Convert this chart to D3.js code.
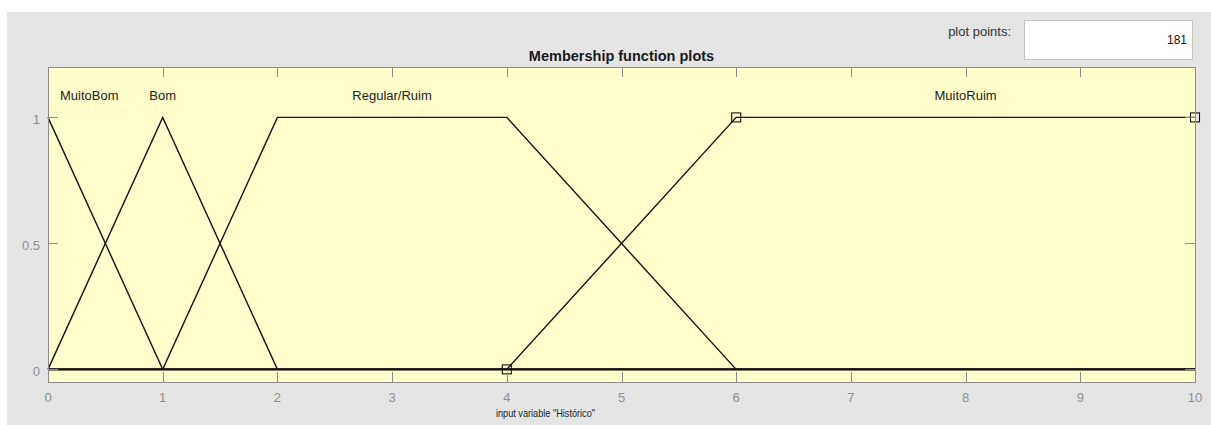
<!DOCTYPE html>
<html>
<head>
<meta charset="utf-8">
<script src="https://cdn.jsdelivr.net/npm/d3@7"></script>
<style>
  html, body { margin: 0; padding: 0; background: #ffffff; }
  svg { display: block; font-family: "Liberation Sans", Arial, sans-serif; }
</style>
</head>
<body>
<svg id="chart" width="1211" height="425"></svg>
<script>
// Membership functions of the input variable "Histórico"
const mfNames = ["MuitoBom", "Bom", "Regular/Ruim", "MuitoRuim"];
const mfTypes = ["trimf", "trimf", "trapmf", "trapmf"];
const mfParams = [
  [-1, 0, 1],
  [0, 1, 2],
  [1, 2, 4, 6],
  [4, 6, 10, 11]
];
const selectedMf = 3;            // MF shown with vertex handles
const xRange = [0, 10];
const xTicks = [0, 1, 2, 3, 4, 5, 6, 7, 8, 9, 10];
const yTicks = [0, 0.5, 1];
const yTickLabels = ["0", "0.5", "1"];
const plotPoints = 181;
const inputName = "Histórico";

(function () {
const svg = d3.select("#chart");
const W = 1211, H = 425;

// window panel
svg.append("rect").attr("x", 7).attr("y", 12).attr("width", W - 7).attr("height", H - 12)
  .attr("fill", "#e5e5e5");

// plot points box
svg.append("text").attr("x", 1011).attr("y", 36).attr("text-anchor", "end")
  .attr("font-size", 13).attr("fill", "#333").text("plot points:");
svg.append("rect").attr("x", 1024.5).attr("y", 20.5).attr("width", 168).attr("height", 39)
  .attr("fill", "#fff").attr("stroke", "#c4c4c4");
svg.append("text").attr("x", 1187).attr("y", 44).attr("text-anchor", "end")
  .attr("font-size", 12).attr("fill", "#111").text(plotPoints);

const pl = 48, pr = 1195, pt = 67, pb = 382;
const x = d3.scaleLinear().domain(xRange).range([pl, pr]);
const y = d3.scaleLinear().domain([-0.05, 1.2]).range([pb, pt]);

// title
svg.append("text").attr("x", (pl + pr) / 2).attr("y", 61).attr("text-anchor", "middle")
  .attr("font-size", 14.5).attr("font-weight", "bold").attr("fill", "#1a1a1a")
  .text("Membership function plots");

// axes background
svg.append("rect").attr("x", pl).attr("y", pt).attr("width", pr - pl).attr("height", pb - pt)
  .attr("fill", "#ffffcc");

svg.append("clipPath").attr("id", "plotclip")
  .append("rect").attr("x", pl - 6).attr("y", pt).attr("width", pr - pl + 12).attr("height", pb - pt);

// vertices of each MF over the input range
function vertices(type, p) {
  const pts = type === "trimf"
    ? [[p[0], 0], [p[1], 1], [p[2], 0]]
    : [[p[0], 0], [p[1], 1], [p[2], 1], [p[3], 0]];
  const inside = pts.filter(d => d[0] >= xRange[0] && d[0] <= xRange[1]);
  const val = xv => {
    for (let i = 0; i < pts.length - 1; i++) {
      const a = pts[i], b = pts[i + 1];
      if (xv >= a[0] && xv <= b[0]) return a[1] + (b[1] - a[1]) * (xv - a[0]) / (b[0] - a[0]);
    }
    return 0;
  };
  const out = [[xRange[0], val(xRange[0])], ...inside, [xRange[1], val(xRange[1])]];
  return out.filter((d, i) => i === 0 || d[0] !== out[i - 1][0] || d[1] !== out[i - 1][1]);
}

const line = d3.line().x(d => x(d[0])).y(d => y(d[1]));
const g = svg.append("g").attr("clip-path", "url(#plotclip)");

// zero level shared by every MF
g.append("line").attr("x1", x(xRange[0])).attr("x2", x(xRange[1]))
  .attr("y1", y(0)).attr("y2", y(0)).attr("stroke", "#000").attr("stroke-width", 2.4);

mfNames.forEach((name, i) => {
  const pts = vertices(mfTypes[i], mfParams[i]);
  g.append("path").attr("d", line(pts)).attr("fill", "none")
    .attr("stroke", "#111").attr("stroke-width", 1.4);
});

// handles on the selected MF
const sel = mfParams[selectedMf];
const handles = [[sel[0], 0], [sel[1], 1], [sel[2], 1]].filter(d => d[0] <= xRange[1]);
g.selectAll("rect.handle").data(handles).enter().append("rect")
  .attr("class", "handle")
  .attr("x", d => x(d[0]) - 4.5).attr("y", d => y(d[1]) - 4.5)
  .attr("width", 9).attr("height", 9)
  .attr("fill", "none").attr("stroke", "#111").attr("stroke-width", 1.1);

// MF labels centred on the plateau, kept inside the axes
mfNames.forEach((name, i) => {
  const p = mfParams[i];
  const c = mfTypes[i] === "trimf" ? p[1] : (p[1] + Math.min(p[2], xRange[1])) / 2;
  const t = svg.append("text").attr("y", 100).attr("text-anchor", "middle")
    .attr("font-size", 13).attr("fill", "#222").text(name);
  const w = t.node().getComputedTextLength();
  t.attr("x", Math.max(x(c), pl + 12 + w / 2));
});

// frame
svg.append("rect").attr("x", pl + 0.5).attr("y", pt + 0.5).attr("width", pr - pl).attr("height", pb - pt)
  .attr("fill", "none").attr("stroke", "#8c8c8c");

// ticks (inward on all four sides)
const tickLen = 10, tickColor = "#8c8c8c";
xTicks.slice(1, -1).forEach(v => {
  const xp = Math.round(x(v)) + 0.5;
  svg.append("line").attr("x1", xp).attr("x2", xp)
    .attr("y1", pb).attr("y2", pb - tickLen).attr("stroke", tickColor);
  svg.append("line").attr("x1", xp).attr("x2", xp)
    .attr("y1", pt).attr("y2", pt + tickLen).attr("stroke", tickColor);
});
yTicks.forEach(v => {
  const yp = Math.round(y(v)) + 0.5;
  svg.append("line").attr("x1", pl).attr("x2", pl + tickLen)
    .attr("y1", yp).attr("y2", yp).attr("stroke", tickColor);
  svg.append("line").attr("x1", pr).attr("x2", pr - tickLen)
    .attr("y1", yp).attr("y2", yp).attr("stroke", tickColor);
});

// tick labels
svg.selectAll("text.xt").data(xTicks).enter().append("text").attr("class", "xt")
  .attr("x", d => x(d)).attr("y", 401.5).attr("text-anchor", "middle")
  .attr("font-size", 13).attr("fill", "#8f8f8f").text(d => d);
svg.selectAll("text.yt").data(yTicks).enter().append("text").attr("class", "yt")
  .attr("x", 40).attr("y", d => y(d) + 6.5).attr("text-anchor", "end")
  .attr("font-size", 13).attr("fill", "#8f8f8f").text((d, i) => yTickLabels[i]);

// axis label (condensed)
svg.append("text").attr("x", 496).attr("y", 416.5)
  .attr("font-size", 11.5).attr("fill", "#222")
  .attr("textLength", 99).attr("lengthAdjust", "spacingAndGlyphs")
  .text(`input variable "${inputName}"`);
})();
</script>
</body>
</html>
